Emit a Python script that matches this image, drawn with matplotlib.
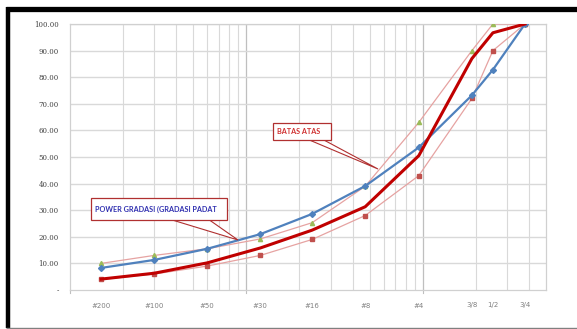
import matplotlib
matplotlib.use("Agg")
import matplotlib.pyplot as plt
from matplotlib.lines import Line2D
from matplotlib.patches import Polygon, Rectangle
import numpy as np

# ---- data ----
sieve_labels = ["#200", "#100", "#50", "#30", "#16", "#8", "#4", "3/8", "1/2", "3/4"]
sieve_mm = [0.075, 0.15, 0.3, 0.6, 1.18, 2.36, 4.75, 9.5, 12.5, 19.0]
power_gradasi = [8.3, 11.3, 15.5, 21.0, 28.6, 39.1, 53.6, 73.2, 82.8, 100.0]
gradasi = [4.1, 6.3, 10.2, 15.8, 22.5, 31.3, 50.5, 87.0, 96.7, 100.0]
batas_atas = [10.0, 13.0, 15.5, 19.2, 25.3, 39.0, 63.0, 90.0, 100.0, 100.0]
batas_bawah = [4.0, 6.0, 9.0, 13.0, 19.0, 28.0, 43.0, 72.0, 90.0, 100.0]
y_ticks = [0, 10, 20, 30, 40, 50, 60, 70, 80, 90, 100]
y_tick_labels = ["-", "10.00", "20.00", "30.00", "40.00", "50.00",
                 "60.00", "70.00", "80.00", "90.00", "100.00"]

W, H = 577, 329
fig = plt.figure(figsize=(W / 100, H / 100), dpi=100)
fig.patch.set_facecolor("white")

def fx(px):
    return px / W

def fy(py):
    return 1 - py / H

ax = fig.add_axes([fx(70), fy(290), fx(546) - fx(70), fy(24) - fy(290)])
ax.set_xscale("log")
ax.set_xlim(0.05, 25)
ax.set_ylim(0, 100)

# grid
decades = [0.05, 0.5, 5]
minor_pos = []
for d in decades:
    for k in range(2, 10):
        v = d * k
        if v < 25:
            minor_pos.append(v)
for v in minor_pos:
    ax.axvline(v, color="#d9d9d9", lw=0.8, zorder=0)
for v in decades[1:]:
    ax.axvline(v, color="#bfbfbf", lw=0.9, zorder=0)
for yv in y_ticks[1:]:
    ax.axhline(yv, color="#d9d9d9", lw=1.0, zorder=0)

for s in ax.spines.values():
    s.set_color("#d0d0d0")
    s.set_linewidth(0.9)

# ticks
ax.set_xticks(sieve_mm)
ax.set_xticklabels(sieve_labels, fontsize=5, color="#808080", family="DejaVu Sans")
ax.xaxis.set_minor_locator(matplotlib.ticker.NullLocator())
ax.tick_params(axis="x", length=0, pad=9)
ax.set_yticks(y_ticks)
ax.set_yticklabels(y_tick_labels, fontsize=5, color="#404040", family="DejaVu Serif")
ax.tick_params(axis="y", length=0, pad=8)
# small decade ticks below axis
for v in decades:
    ax.plot([v, v], [0, -1.3], color="#bfbfbf", lw=0.8, clip_on=False, zorder=1)

# series
ax.plot(sieve_mm, batas_atas, color="#e6a3a2", lw=0.9, marker="^", ms=3,
        mfc="#9bbb59", mec="#9bbb59", zorder=3)
ax.plot(sieve_mm, batas_bawah, color="#e6a3a2", lw=0.9, marker="s", ms=3,
        mfc="#c0504d", mec="#c0504d", zorder=3)
ax.plot(sieve_mm, power_gradasi, color="#4f81bd", lw=1.6, marker="D", ms=3,
        mfc="#4f81bd", mec="#4f81bd", zorder=4)
ax.plot(sieve_mm, gradasi, color="#c00000", lw=2.2, zorder=5)

# callouts (figure pixel coordinates)
def callout(x0, y0, x1, y1, b0, b1, tip, text, tcolor):
    poly = Polygon([(fx(b0), fy(y1 - 1)), (fx(tip[0]), fy(tip[1])), (fx(b1), fy(y1 - 1))],
                   closed=True, transform=fig.transFigure, facecolor="white",
                   edgecolor="#b03030", lw=0.8, zorder=10)
    fig.add_artist(poly)
    rect = Rectangle((fx(x0), fy(y1)), fx(x1) - fx(x0), fy(y0) - fy(y1),
                     transform=fig.transFigure, facecolor="white",
                     edgecolor="#b03030", lw=0.9, zorder=11)
    fig.add_artist(rect)
    fig.text(fx(x0 + 4), fy((y0 + y1) / 2), text, color=tcolor, fontsize=5.2,
             fontweight="bold", family="Lato", va="center", ha="left", zorder=12)

callout(273, 123, 331, 140, 307, 322, (378, 169), "BATAS ATAS", "#d03030")
callout(91, 198, 227, 220, 169, 208, (238, 240), "POWER GRADASI (GRADASI PADAT", "#3030b0")

# outer frame
fig.add_artist(Line2D([fx(6), 1.0], [fy(8.8), fy(8.8)], color="black", lw=3.8,
                      transform=fig.transFigure, solid_capstyle="butt"))
fig.add_artist(Line2D([fx(8), fx(8)], [fy(7), fy(328)], color="black", lw=3.2,
                      transform=fig.transFigure, solid_capstyle="butt"))
fig.add_artist(Line2D([fx(6), 1.0], [fy(327.5), fy(327.5)], color="#808080", lw=1.0,
                      transform=fig.transFigure, solid_capstyle="butt"))

fig.savefig("out.png", dpi=100, facecolor="white")
